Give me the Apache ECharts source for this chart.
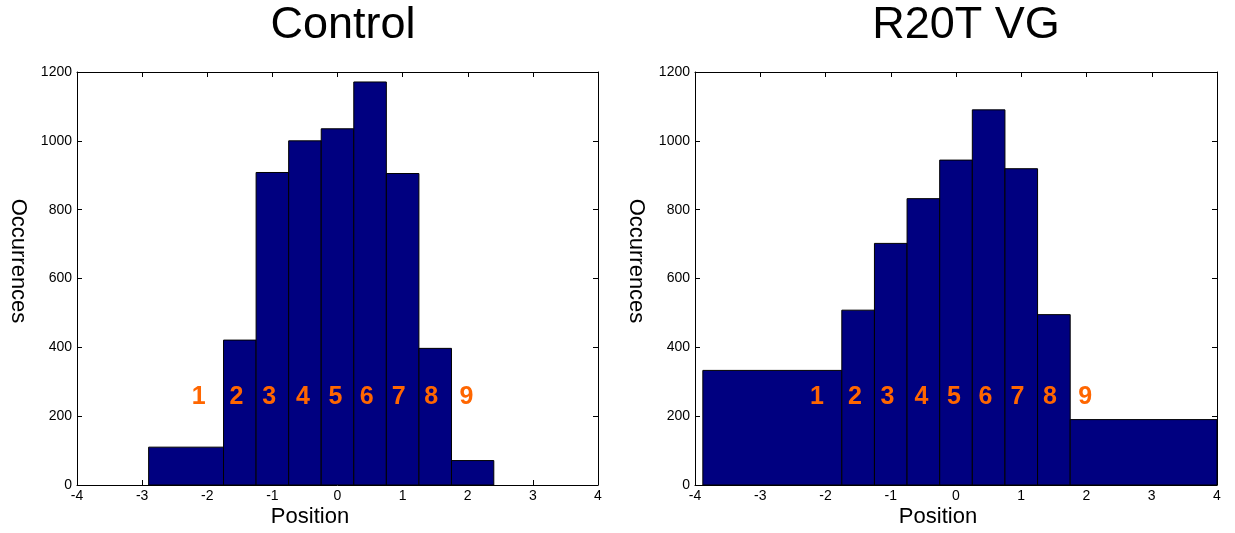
<!DOCTYPE html>
<html>
<head>
<meta charset="utf-8">
<script src="https://cdn.jsdelivr.net/npm/echarts@6/dist/echarts.min.js"></script>
<style>
  html, body { margin: 0; padding: 0; background: #fff; }
  #chart { width: 1235px; height: 533px; }
</style>
</head>
<body>
<div id="chart"></div>
<script>
// histogram bin edges and counts
var controlEdges = [-2.9, -1.75, -1.25, -0.75, -0.25, 0.25, 0.75, 1.25, 1.75, 2.4];
var controlCounts = [110, 421, 908, 1000, 1035, 1171, 905, 397, 71];
var vgEdges = [-3.88, -1.75, -1.25, -0.75, -0.25, 0.25, 0.75, 1.25, 1.75, 4];
var vgCounts = [333, 508, 702, 832, 944, 1090, 919, 495, 190];

// orange bin numbers
var binLabels = ['1', '2', '3', '4', '5', '6', '7', '8', '9'];
var binLabelX = [-2.13, -1.55, -1.05, -0.53, -0.03, 0.45, 0.94, 1.44, 1.98];
var binLabelY = 255;

var titles = ['Control', 'R20T VG'];
var xName = 'Position';
var yName = 'Occurrences';

var ink = '#000';
var barFill = '#000080';
var orange = '#ff6600';
var font = 'Arial, "Liberation Sans", sans-serif';

var chart = echarts.init(document.getElementById('chart'), null, { renderer: 'canvas' });

function binData(edges, counts) {
  var out = [];
  for (var i = 0; i < counts.length; i++) {
    out.push([edges[i], edges[i + 1], counts[i]]);
  }
  return out;
}

function labelData() {
  var out = [];
  for (var i = 0; i < binLabels.length; i++) {
    out.push([binLabelX[i], binLabelY, binLabels[i]]);
  }
  return out;
}

function xAxisFor(gi, top) {
  return {
    type: 'value', gridIndex: gi, min: -4, max: 4, interval: 1,
    position: top ? 'top' : 'bottom',
    axisLine: { show: true, onZero: false, lineStyle: { color: ink, width: 1 } },
    axisTick: { show: true, inside: true, length: 5, lineStyle: { color: ink } },
    axisLabel: { show: !top, color: ink, fontSize: 14, fontFamily: font, margin: 4 },
    splitLine: { show: false }
  };
}

function yAxisFor(gi, right) {
  return {
    type: 'value', gridIndex: gi, min: 0, max: 1200, interval: 200,
    position: right ? 'right' : 'left',
    axisLine: { show: true, onZero: false, lineStyle: { color: ink, width: 1 } },
    axisTick: { show: true, inside: true, length: 5, lineStyle: { color: ink } },
    axisLabel: {
      show: !right, color: ink, fontSize: 14, fontFamily: font, margin: 5,
      formatter: function (v) { return String(v); }
    },
    splitLine: { show: false }
  };
}

function barSeries(gi, data) {
  return {
    type: 'custom', xAxisIndex: gi * 2, yAxisIndex: gi * 2,
    data: data, clip: true,
    encode: { x: [0, 1], y: 2 },
    renderItem: function (params, api) {
      var p0 = api.coord([api.value(0), api.value(2)]);
      var p1 = api.coord([api.value(1), 0]);
      return {
        type: 'rect',
        shape: { x: p0[0], y: p0[1], width: p1[0] - p0[0], height: p1[1] - p0[1] },
        style: { fill: barFill, stroke: ink, lineWidth: 1 }
      };
    },
    z: 2
  };
}

function labelSeries(gi) {
  return {
    type: 'custom', xAxisIndex: gi * 2, yAxisIndex: gi * 2,
    data: labelData(), silent: true,
    encode: { x: 0, y: 1 },
    renderItem: function (params, api) {
      var p = api.coord([api.value(0), api.value(1)]);
      return {
        type: 'text', x: p[0], y: p[1],
        style: {
          text: binLabels[params.dataIndex], fill: orange,
          font: 'bold 25px ' + font,
          align: 'center', verticalAlign: 'middle'
        }
      };
    },
    z: 5
  };
}

function text(str, x, y, size, rot) {
  return {
    type: 'text', x: x, y: y, rotation: rot || 0,
    style: {
      text: str, fill: ink, font: size + 'px ' + font,
      align: 'center', verticalAlign: 'middle',
      textAlign: 'center', textVerticalAlign: 'middle'
    }
  };
}

chart.setOption({
  animation: false,
  grid: [
    { left: 77, right: 637, top: 72, bottom: 48 },
    { left: 695, right: 18, top: 72, bottom: 48 }
  ],
  xAxis: [xAxisFor(0, false), xAxisFor(0, true), xAxisFor(1, false), xAxisFor(1, true)],
  yAxis: [yAxisFor(0, false), yAxisFor(0, true), yAxisFor(1, false), yAxisFor(1, true)],
  series: [
    barSeries(0, binData(controlEdges, controlCounts)),
    barSeries(1, binData(vgEdges, vgCounts)),
    labelSeries(0),
    labelSeries(1)
  ],
  graphic: [
    text(titles[0], 343, 26, 45),
    text(titles[1], 966, 26, 45),
    text(xName, 310, 517, 22),
    text(xName, 938, 517, 22),
    text(yName, 18, 261, 22, -Math.PI / 2),
    text(yName, 636, 261, 22, -Math.PI / 2)
  ]
});
</script>
</body>
</html>
